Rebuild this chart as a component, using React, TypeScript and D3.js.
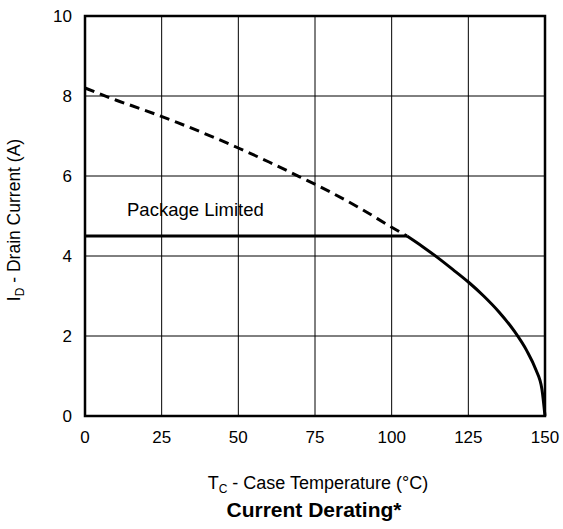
import React from "react";
import * as d3 from "d3";

// Drain current derating vs. case temperature
const xTicks = [0, 25, 50, 75, 100, 125, 150];
const yTicks = [0, 2, 4, 6, 8, 10];

// Silicon-limited current (dashed where above the package limit)
const dashedTemp = [0, 10, 20, 30, 40, 50, 60, 70, 80, 90, 100, 105];
const dashedCurrent = [8.2, 7.9, 7.63, 7.34, 7.03, 6.7, 6.35, 5.98, 5.6, 5.18, 4.72, 4.5];

// Derating curve below the package limit
const solidTemp = [105, 110, 115, 120, 125, 130, 135, 140, 144, 147, 149, 150];
const solidCurrent = [4.5, 4.24, 3.96, 3.66, 3.35, 3.0, 2.6, 2.12, 1.64, 1.16, 0.67, 0];

// Package limit
const packageTemp = [0, 105];
const packageCurrent = [4.5, 4.5];

const W = 563;
const H = 529;
const left = 85;
const right = 545;
const top = 16;
const bottom = 416;
const font = "'Liberation Sans', Arial, Helvetica, sans-serif";

export default function App() {
  const x = d3.scaleLinear().domain([0, 150]).range([left, right]);
  const y = d3.scaleLinear().domain([0, 10]).range([bottom, top]);
  const line = d3
    .line<[number, number]>()
    .x((d) => x(d[0]))
    .y((d) => y(d[1]))
    .curve(d3.curveMonotoneX);
  const straight = d3
    .line<[number, number]>()
    .x((d) => x(d[0]))
    .y((d) => y(d[1]));

  const dashed = dashedTemp.map((t, i) => [t, dashedCurrent[i]] as [number, number]);
  const solid = solidTemp.map((t, i) => [t, solidCurrent[i]] as [number, number]);
  const pkg = packageTemp.map((t, i) => [t, packageCurrent[i]] as [number, number]);

  return (
    <svg
      width={W}
      height={H}
      style={{ position: "absolute", left: 0, top: 0, background: "#fff" }}
      fontFamily={font}
    >
      {/* grid */}
      {xTicks.slice(1, -1).map((t) => (
        <line key={"gx" + t} x1={x(t)} x2={x(t)} y1={top} y2={bottom} stroke="#000" strokeWidth={1} />
      ))}
      {yTicks.slice(1, -1).map((t) => (
        <line key={"gy" + t} x1={left} x2={right} y1={y(t)} y2={y(t)} stroke="#000" strokeWidth={1} />
      ))}

      {/* curves */}
      <path d={line(dashed) || ""} fill="none" stroke="#000" strokeWidth={3} strokeDasharray="10 6" />
      <path d={straight(pkg) || ""} fill="none" stroke="#000" strokeWidth={3} />
      <path d={line(solid) || ""} fill="none" stroke="#000" strokeWidth={3} strokeLinejoin="round" />

      {/* frame */}
      <rect x={left} y={top} width={right - left} height={bottom - top} fill="none" stroke="#000" strokeWidth={2.5} />

      {/* tick labels */}
      {xTicks.map((t) => (
        <text key={"tx" + t} x={x(t)} y={443} fontSize={17} textAnchor="middle">
          {t}
        </text>
      ))}
      {yTicks.map((t) => (
        <text key={"ty" + t} x={72} y={y(t) + 6} fontSize={17} textAnchor="end">
          {t}
        </text>
      ))}

      <text x={127} y={216} fontSize={18.5}>
        Package Limited
      </text>

      {/* axis titles */}
      <text x={318} y={489} fontSize={18} textAnchor="middle">
        T<tspan fontSize={12} dy={4}>C</tspan>
        <tspan dy={-4}> - Case Temperature (°C)</tspan>
      </text>
      <text x={314} y={517} fontSize={21} fontWeight="bold" textAnchor="middle">
        Current Derating*
      </text>
      <text transform={`translate(20,${(top + bottom) / 2 + 4}) rotate(-90)`} fontSize={17.5} textAnchor="middle">
        I<tspan fontSize={12} dy={4}>D</tspan>
        <tspan dy={-4}> - Drain Current (A)</tspan>
      </text>
    </svg>
  );
}
